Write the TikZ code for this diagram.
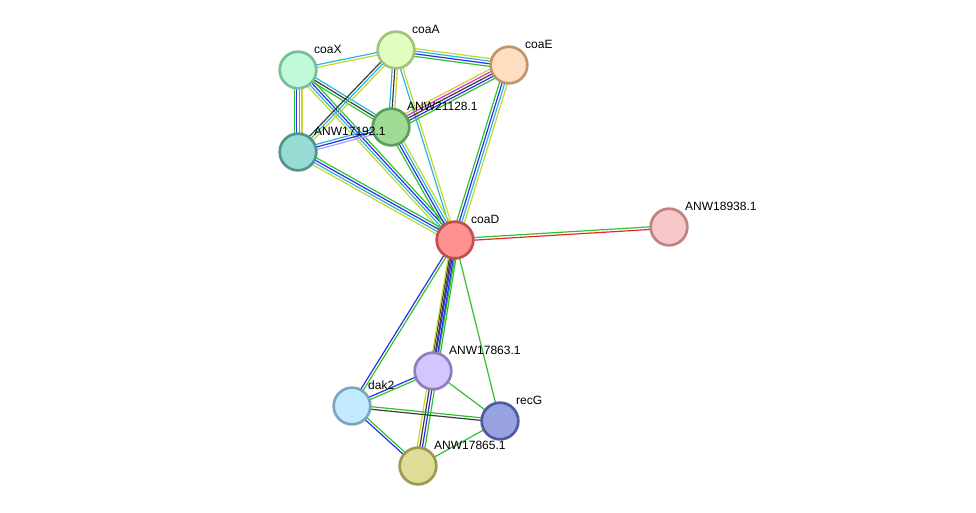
\documentclass[tikz,border=0pt]{standalone}
\usepackage{fontspec}
\setmainfont{Liberation Sans}
\usetikzlibrary{calc,backgrounds}

% Farben der Kanten
\definecolor{lgreen}{RGB}{45,195,45}
\definecolor{lblue}{RGB}{45,45,235}
\definecolor{lcyan}{RGB}{40,180,225}
\definecolor{lyellow}{RGB}{195,215,45}
\definecolor{lblack}{RGB}{60,60,60}
\definecolor{lmagenta}{RGB}{215,45,215}
\definecolor{lred}{RGB}{235,40,40}
\definecolor{llav}{RGB}{165,165,250}

% parallele Linien zwischen zwei Knoten
\newcommand{\edgelines}[3]{%
  \foreach \c [count=\n] in {#3}{\xdef\nlines{\n}}
  \foreach \c [count=\i] in {#3}{
    \pgfmathsetmacro{\off}{(\i-(\nlines+1)/2)*1.95}
    \draw[\c, line width=0.9pt] ($(#1.center)!\off pt!90:(#2.center)$) -- ($(#2.center)!\off pt!-90:(#1.center)$);
  }}

\begin{document}
\begin{tikzpicture}[x=0.75pt, y=-0.75pt,
    prot/.style={circle, minimum size=27.5pt, inner sep=0pt, line width=2pt},
    every label/.style={font=\fontsize{9}{10}\selectfont, inner sep=1.5pt, label distance=0pt}]
    \useasboundingbox (0,0) rectangle (976,512);

    % Proteine
    \node[prot, draw={rgb,255:red,120;green,190;blue,150}, fill={rgb,255:red,192;green,250;blue,218}, label={45:coaX}] (coaX) at (298,70) {};
    \node[prot, draw={rgb,255:red,160;green,195;blue,125}, fill={rgb,255:red,226;green,255;blue,194}, label={45:coaA}] (coaA) at (396,50) {};
    \node[prot, draw={rgb,255:red,190;green,150;blue,110}, fill={rgb,255:red,253;green,222;blue,192}, label={45:coaE}] (coaE) at (509,65) {};
    \node[prot, draw={rgb,255:red,90;green,160;blue,90}, fill={rgb,255:red,160;green,220;blue,150}, label={45:ANW21128.1}] (a21128) at (391,127) {};
    \node[prot, draw={rgb,255:red,80;green,150;blue,140}, fill={rgb,255:red,150;green,220;blue,212}, label={45:ANW17192.1}] (a17192) at (298,152) {};
    \node[prot, draw={rgb,255:red,190;green,80;blue,80}, fill={rgb,255:red,255;green,145;blue,145}, label={45:coaD}] (coaD) at (455,240) {};
    \node[prot, draw={rgb,255:red,190;green,130;blue,130}, fill={rgb,255:red,248;green,200;blue,200}, label={45:ANW18938.1}] (a18938) at (669,227) {};
    \node[prot, draw={rgb,255:red,145;green,125;blue,190}, fill={rgb,255:red,212;green,196;blue,255}, label={45:ANW17863.1}] (a17863) at (433,371) {};
    \node[prot, draw={rgb,255:red,125;green,165;blue,190}, fill={rgb,255:red,195;green,235;blue,255}, label={45:dak2}] (dak2) at (352,406) {};
    \node[prot, draw={rgb,255:red,80;green,90;blue,160}, fill={rgb,255:red,152;green,162;blue,225}, label={45:recG}] (recG) at (500,421) {};
    \node[prot, draw={rgb,255:red,155;green,155;blue,80}, fill={rgb,255:red,222;green,220;blue,150}, label={45:ANW17865.1}] (a17865) at (418,466) {};

    % Kanten
    \begin{pgfonlayer}{background}
    \edgelines{coaX}{coaA}{lyellow,lcyan}
    \edgelines{coaA}{coaE}{lgreen,lblue,lcyan,lyellow}
    \edgelines{coaX}{a17192}{lgreen,lblue,lcyan,lyellow}
    \edgelines{coaX}{a21128}{lgreen,lblack,lcyan}
    \edgelines{coaX}{coaD}{lyellow,lcyan,lblue,lgreen}
    \edgelines{coaA}{a17192}{lblack,lcyan,lyellow}
    \edgelines{coaA}{a21128}{lcyan,lblack,lyellow}
    \edgelines{coaA}{coaD}{lcyan,lyellow}
    \edgelines{coaE}{a21128}{lyellow,lmagenta,lblack,lblue,lgreen}
    \edgelines{coaE}{coaD}{lgreen,lblue,lcyan,lyellow}
    \edgelines{a17192}{a21128}{llav,lblue,lcyan}
    \edgelines{a21128}{coaD}{lgreen,lblue,lcyan,lyellow}
    \edgelines{a17192}{coaD}{lyellow,lcyan,lblue,lgreen}
    \edgelines{coaD}{a18938}{lred,lgreen}
    \edgelines{coaD}{dak2}{lblue,lgreen}
    \edgelines{coaD}{a17863}{lblack,lblue,lgreen}
    \edgelines{coaD}{a17865}{lyellow,lblack,lblue,lgreen}
    \edgelines{coaD}{recG}{lgreen}
    \edgelines{a17863}{dak2}{lblue,lgreen}
    \edgelines{a17863}{recG}{lgreen}
    \edgelines{dak2}{recG}{lblack,lgreen}
    \edgelines{dak2}{a17865}{lblue,lgreen}
    \edgelines{recG}{a17865}{lgreen}
    \end{pgfonlayer}
\end{tikzpicture}
\end{document}
